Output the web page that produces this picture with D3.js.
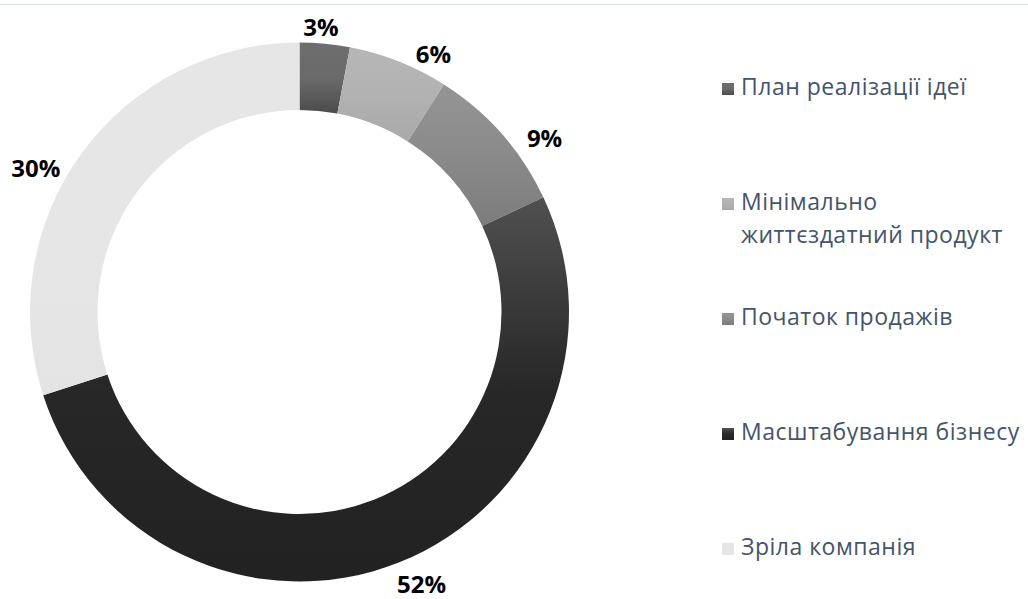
<!DOCTYPE html>
<html>
<head>
<meta charset="utf-8">
<script src="https://cdnjs.cloudflare.com/ajax/libs/d3/7.8.5/d3.min.js"></script>
<style>
	html, body { margin: 0; padding: 0; background: #fff; }
	svg { display: block; }
	.lbl { font-family: "Open Sans", sans-serif; font-weight: bold; font-size: 24px; fill: #000; }
	.leg { font-family: "Open Sans", sans-serif; font-size: 23px; letter-spacing: 0.5px; fill: #44546a; }
</style>
</head>
<body>
<div id="chart"></div>
<script>
// data
var categories = ["План реалізації ідеї", "Мінімально життєздатний продукт", "Початок продажів", "Масштабування бізнесу", "Зріла компанія"];
var shares = [3, 6, 9, 52, 30];
var legendLines = [["План реалізації ідеї"], ["Мінімально", "життєздатний продукт"], ["Початок продажів"], ["Масштабування бізнесу"], ["Зріла компанія"]];

// gradient stops per slice (top -> bottom)
var shades = [
	["#6e6e6e", "#6a6a6a", "#4b4b4b"],
	["#b6b6b6", "#b2b2b2", "#a9a9a9"],
	["#959595", "#8a8a8a", "#7c7c7c"],
	["#505050", "#272727", "#222222"],
	["#e6e6e6", "#e6e6e6", "#e4e4e4"]
];

// label nudges (degrees, radius) where excel moved the labels off the mid angle
var labelNudge = [[-1.1, 286], [5.8, 291], [5.9, 301], [-2.6, 298], [-7.2, 301]];

var width = 1028,
	height = 599,
	cx = 299.5,
	cy = 312,
	outerR = 269.5,
	innerR = 202;

var svg = d3.select("#chart")
	.append("svg")
	.attr("width", width)
	.attr("height", height);

// faint frame line at top
svg.append("line")
	.attr("x1", 0).attr("x2", width)
	.attr("y1", 4.5).attr("y2", 4.5)
	.attr("stroke", "#dbe1e9")
	.attr("stroke-width", 1);

var defs = svg.append("defs");
shades.forEach(function(s, i) {
	var g = defs.append("linearGradient")
		.attr("id", "g" + i)
		.attr("x1", 0).attr("y1", 0)
		.attr("x2", 0).attr("y2", 1);
	g.append("stop").attr("offset", "0%").attr("stop-color", s[0]);
	g.append("stop").attr("offset", "50%").attr("stop-color", s[1]);
	g.append("stop").attr("offset", "100%").attr("stop-color", s[2]);
});

var pie = d3.pie().sort(null).value(function(d) { return d; });
var arcs = pie(shares);

var arc = d3.arc().innerRadius(innerR).outerRadius(outerR);

var g = svg.append("g")
	.attr("transform", "translate(" + cx + "," + cy + ")");

g.selectAll("path.slice")
	.data(arcs)
	.enter()
	.append("path")
	.attr("class", "slice")
	.attr("d", arc)
	.attr("fill", function(d, i) { return "url(#g" + i + ")"; });

g.selectAll("text.lbl")
	.data(arcs)
	.enter()
	.append("text")
	.attr("class", "lbl")
	.attr("text-anchor", "middle")
	.attr("dominant-baseline", "central")
	.attr("x", function(d, i) {
		var a = (d.startAngle + d.endAngle) / 2 + labelNudge[i][0] * Math.PI / 180;
		return Math.sin(a) * labelNudge[i][1];
	})
	.attr("y", function(d, i) {
		var a = (d.startAngle + d.endAngle) / 2 + labelNudge[i][0] * Math.PI / 180;
		return -Math.cos(a) * labelNudge[i][1];
	})
	.text(function(d) { return d.data + "%"; });

// legend
var ly = d3.scalePoint()
	.domain(categories)
	.range([95, 555]);

var leg = svg.selectAll("g.legend")
	.data(categories)
	.enter()
	.append("g")
	.attr("class", "legend")
	.attr("transform", function(d) { return "translate(722," + ly(d) + ")"; });

leg.append("rect")
	.attr("x", 0)
	.attr("y", -12)
	.attr("width", 12)
	.attr("height", 12)
	.attr("fill", function(d, i) { return "url(#g" + i + ")"; });

leg.append("text")
	.attr("class", "leg")
	.attr("x", 19)
	.attr("y", 0)
	.selectAll("tspan")
	.data(function(d, i) { return legendLines[i]; })
	.enter()
	.append("tspan")
	.attr("x", 19)
	.attr("dy", function(d, j) { return j === 0 ? 0 : 33; })
	.text(function(d) { return d; });
</script>
</body>
</html>
